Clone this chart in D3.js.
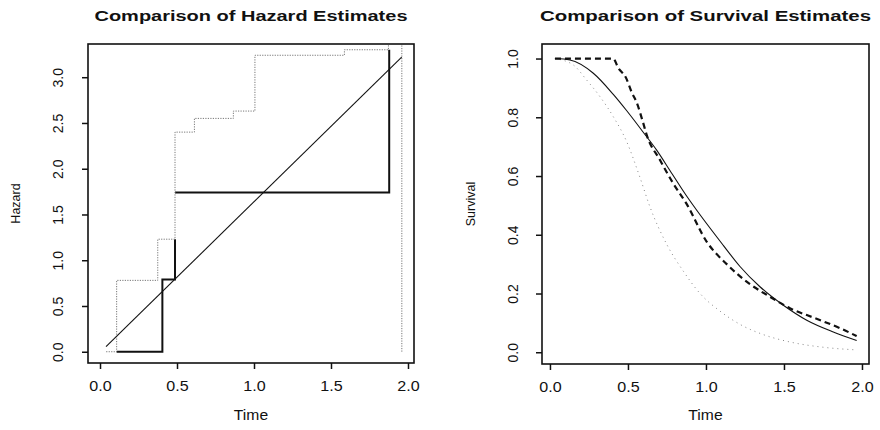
<!DOCTYPE html>
<html>
<head>
<meta charset="utf-8">
<script src="https://cdn.jsdelivr.net/npm/d3@7"></script>
<style>
  body { margin: 0; background: #fff; }
  svg { display: block; font-family: "Liberation Sans", Arial, sans-serif; }
</style>
</head>
<body>
<svg width="880" height="430"></svg>
<script>
// ---- data ----
var xTicks = [0, 0.5, 1.0, 1.5, 2.0];
var hazTicks = [0, 0.5, 1.0, 1.5, 2.0, 2.5, 3.0];
var survTicks = [0, 0.2, 0.4, 0.6, 0.8, 1.0];

// left panel: axis limits
var hazXLim = [-0.078, 2.039];
var hazYLim = [-0.123, 3.363];

// linear (parametric) hazard
var linTime = [0.039, 1.959];
var linHaz = [0.055, 3.22];

// piecewise-constant hazard (thick); null = gap
var stepTime = [0.108, 0.405, 0.405, 0.487, 0.487, null, 0.487, 1.878, 1.878];
var stepHaz = [0, 0, 0.79, 0.79, 1.23, null, 1.74, 1.74, 3.30];

// empirical hazard (dotted), step after; last jump goes off the top
var empTime = [0.04, 0.108, 0.375, 0.487, 0.613, 0.866, 1.006, 1.587, 1.873, 1.96];
var empHaz = [0, 0.78, 1.23, 2.40, 2.55, 2.63, 3.24, 3.30, 6.0, 0];

// right panel: axis limits
var survXLim = [-0.051, 2.045];
var survYLim = [-0.040, 1.0495];

// solid survival
var solidTime = [0.032, 0.128, 0.278, 0.406, 0.491, 0.598, 0.684, 0.769, 0.876, 0.962, 1.111, 1.218, 1.346, 1.496, 1.646, 1.816, 1.966];
var solidSurv = [1.0, 0.995, 0.95, 0.878, 0.823, 0.749, 0.688, 0.619, 0.532, 0.468, 0.364, 0.292, 0.223, 0.160, 0.109, 0.069, 0.040];

// dashed survival
var dashTime = [0.032, 0.405, 0.438, 0.487, 0.524, 0.556, 0.598, 0.62, 0.705, 0.79, 0.876, 1.004, 1.133, 1.282, 1.41, 1.538, 1.709, 1.859, 1.966];
var dashSurv = [1.0, 1.0, 0.968, 0.935, 0.885, 0.85, 0.78, 0.74, 0.655, 0.575, 0.505, 0.377, 0.300, 0.232, 0.189, 0.150, 0.114, 0.082, 0.055];

// dotted survival
var dotTime = [0.032, 0.15, 0.235, 0.321, 0.406, 0.491, 0.577, 0.641, 0.748, 0.855, 0.962, 1.09, 1.218, 1.368, 1.538, 1.752, 1.966];
var dotSurv = [1.0, 0.978, 0.927, 0.870, 0.802, 0.718, 0.595, 0.495, 0.368, 0.276, 0.200, 0.140, 0.095, 0.060, 0.035, 0.017, 0.008];

var svg = d3.select("svg");
var fmt = d3.format(".1f");

function zip(xs, ys) {
    return xs.map(function(x, i) { return {x: x, y: ys[i]}; });
}

// stretch text horizontally a bit, like the scanned figure
function stretch(sel, k) {
    sel.each(function() {
        var w = this.getComputedTextLength();
        d3.select(this).attr("textLength", w * k).attr("lengthAdjust", "spacingAndGlyphs");
    });
}

function panel(opts) {
    var box = opts.box;
    var x = d3.scaleLinear().domain(opts.xlim).range([box.left, box.right]);
    var y = d3.scaleLinear().domain(opts.ylim).range([box.bottom, box.top]);
    var g = svg.append("g");

    g.append("clipPath").attr("id", opts.id)
        .append("rect")
        .attr("x", box.left).attr("y", box.top)
        .attr("width", box.right - box.left).attr("height", box.bottom - box.top);

    var plot = g.append("g").attr("clip-path", "url(#" + opts.id + ")");

    // x axis
    var xa = g.append("g")
        .attr("transform", "translate(0," + box.bottom + ")")
        .call(d3.axisBottom(x).tickValues(xTicks).tickFormat(fmt).tickSize(6).tickPadding(12));
    xa.select(".domain").remove();
    xa.selectAll("line").attr("stroke", "#111").attr("stroke-width", 1.5);
    xa.selectAll("text").attr("font-size", 14).attr("fill", "#111")
        .attr("font-family", "Liberation Sans, Arial, sans-serif");
    stretch(xa.selectAll("text"), 1.15);

    // y axis, labels rotated like R's default
    var ya = g.append("g")
        .attr("transform", "translate(" + box.left + ",0)")
        .call(d3.axisLeft(y).tickValues(opts.yTicks).tickFormat(fmt).tickSize(6));
    ya.select(".domain").remove();
    ya.selectAll("line").attr("stroke", "#111").attr("stroke-width", 1.5);
    ya.selectAll("text")
        .attr("x", null).attr("dy", null)
        .attr("text-anchor", "middle")
        .attr("transform", "translate(" + opts.yLabOff + ",0) rotate(-90)")
        .attr("font-size", 14).attr("fill", "#111")
        .attr("font-family", "Liberation Sans, Arial, sans-serif");

    // box
    g.append("rect")
        .attr("x", box.left).attr("y", box.top)
        .attr("width", box.right - box.left).attr("height", box.bottom - box.top)
        .attr("fill", "none").attr("stroke", "#111").attr("stroke-width", 1.6);

    // title
    var t = g.append("text")
        .attr("x", (box.left + box.right) / 2).attr("y", 20.5)
        .attr("text-anchor", "middle").attr("font-weight", "bold").attr("font-size", 15)
        .attr("fill", "#111")
        .text(opts.title);
    t.attr("textLength", opts.titleWidth).attr("lengthAdjust", "spacingAndGlyphs");

    var xl = g.append("text")
        .attr("x", (box.left + box.right) / 2).attr("y", 420)
        .attr("text-anchor", "middle").attr("font-size", 14).attr("fill", "#111")
        .text("Time");
    stretch(xl, 1.12);

    g.append("text")
        .attr("transform", "translate(" + opts.yTitleX + "," + (box.top + box.bottom) / 2 + ") rotate(-90)")
        .attr("text-anchor", "middle").attr("font-size", 12.5).attr("fill", "#111")
        .text(opts.ylab);

    return {x: x, y: y, plot: plot};
}

// ---- left: hazard ----
var L = panel({
    id: "clipL",
    box: {left: 88, right: 414, top: 44, bottom: 363},
    xlim: hazXLim, ylim: hazYLim, yTicks: hazTicks,
    yLabOff: -25, yTitleX: 19.5,
    title: "Comparison of Hazard Estimates", titleWidth: 313,
    ylab: "Hazard"
});

var lineL = d3.line()
    .defined(function(d) { return d.x !== null; })
    .x(function(d) { return L.x(d.x); })
    .y(function(d) { return L.y(d.y); });

L.plot.append("path")
    .datum(zip(stepTime, stepHaz))
    .attr("d", lineL)
    .attr("fill", "none").attr("stroke", "#111").attr("stroke-width", 2);

L.plot.append("path")
    .datum(zip(empTime, empHaz))
    .attr("d", lineL.curve(d3.curveStepAfter))
    .attr("fill", "none").attr("stroke", "#777").attr("stroke-width", 1)
    .attr("stroke-dasharray", "1.2,1.3");
lineL.curve(d3.curveLinear);

L.plot.append("path")
    .datum(zip(linTime, linHaz))
    .attr("d", lineL)
    .attr("fill", "none").attr("stroke", "#111").attr("stroke-width", 1.1);

// ---- right: survival ----
var R = panel({
    id: "clipR",
    box: {left: 542, right: 869, top: 44, bottom: 364},
    xlim: survXLim, ylim: survYLim, yTicks: survTicks,
    yLabOff: -24, yTitleX: 474.5,
    title: "Comparison of Survival Estimates", titleWidth: 331,
    ylab: "Survival"
});

var lineR = d3.line()
    .x(function(d) { return R.x(d.x); })
    .y(function(d) { return R.y(d.y); })
    .curve(d3.curveMonotoneX);

R.plot.append("path")
    .datum(zip(dotTime, dotSurv))
    .attr("d", lineR)
    .attr("fill", "none").attr("stroke", "#888").attr("stroke-width", 1)
    .attr("stroke-dasharray", "1,4");

R.plot.append("path")
    .datum(zip(solidTime, solidSurv))
    .attr("d", lineR)
    .attr("fill", "none").attr("stroke", "#111").attr("stroke-width", 1.1);

R.plot.append("path")
    .datum(zip(dashTime, dashSurv))
    .attr("d", lineR)
    .attr("fill", "none").attr("stroke", "#111").attr("stroke-width", 2.2)
    .attr("stroke-dasharray", "6,4");
</script>
</body>
</html>
